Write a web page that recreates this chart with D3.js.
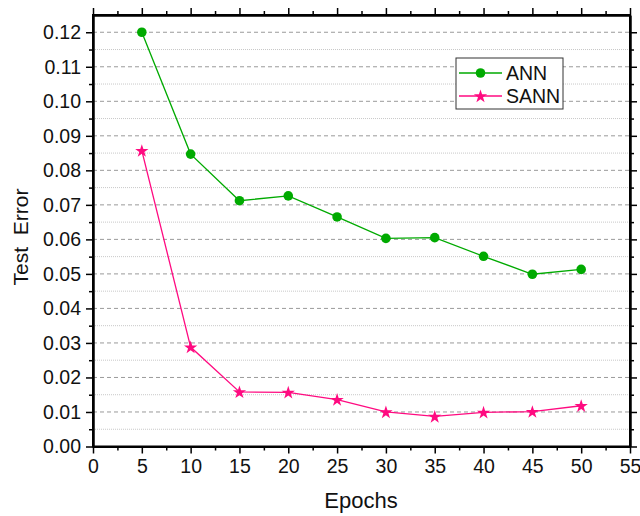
<!DOCTYPE html>
<html>
<head>
<meta charset="utf-8">
<script src="https://cdn.jsdelivr.net/npm/d3@7"></script>
<style>
  body { margin: 0; background: #fff; }
  svg text { font-family: "Liberation Sans", Arial, sans-serif; }
</style>
</head>
<body>
<svg id="chart" width="640" height="516"></svg>
<script>
// data
var epochs = [5, 10, 15, 20, 25, 30, 35, 40, 45, 50];
var annError = [0.1200, 0.0847, 0.0712, 0.0726, 0.0665, 0.0603, 0.0605, 0.0551, 0.0499, 0.0513];
var sannError = [0.0857, 0.0288, 0.0158, 0.0157, 0.0136, 0.0100, 0.0087, 0.0099, 0.0101, 0.0118];
var xTicks = [0, 5, 10, 15, 20, 25, 30, 35, 40, 45, 50, 55];
var yTicks = [0, 0.01, 0.02, 0.03, 0.04, 0.05, 0.06, 0.07, 0.08, 0.09, 0.10, 0.11, 0.12];
var seriesNames = ['ANN', 'SANN'];

var svg = d3.select('#chart'),
    margin = {left: 93, top: 15, right: 10, bottom: 70},
    width = 630 - margin.left,
    height = 446.5 - margin.top,
    green = '#00aa00',
    pink = '#ff0a80',
    font = '"Liberation Sans", Arial, sans-serif';

var g = svg.append('g')
  .attr('transform', `translate(${margin.left},${margin.top})`);

var x = d3.scaleLinear().domain([0, 55]).range([0, width]),
    y = d3.scaleLinear().domain([0, 0.125]).range([height, 0]);

// minor grid (dotted) and major grid (dashed)
var minorY = d3.range(0.005, 0.125, 0.01);
g.append('g').selectAll('line').data(minorY).enter().append('line')
  .attr('x1', 0).attr('x2', width)
  .attr('y1', d => y(d)).attr('y2', d => y(d))
  .attr('stroke', '#c8c8c8').attr('stroke-width', 1)
  .attr('stroke-dasharray', '1,1');
g.append('g').selectAll('line').data(yTicks.slice(1)).enter().append('line')
  .attr('x1', 0).attr('x2', width)
  .attr('y1', d => y(d)).attr('y2', d => y(d))
  .attr('stroke', '#9a9a9a').attr('stroke-width', 1)
  .attr('stroke-dasharray', '4,3');

// axes: major + minor ticks, outward on all four sides
function styleAxis(sel) {
  sel.attr('font-family', font);
  sel.selectAll('path').attr('stroke', '#000').attr('stroke-width', 2);
  sel.selectAll('line').attr('stroke', '#000').attr('stroke-width', 1.5);
  sel.selectAll('text').attr('font-size', '19.5px').attr('fill', '#111');
}
var xMinor = d3.range(2.5, 55, 5),
    yMinor = d3.range(0.005, 0.125, 0.01);

var xBottom = g.append('g').attr('transform', `translate(0,${height})`)
  .call(d3.axisBottom(x).tickValues(xTicks).tickSize(7).tickSizeOuter(0).tickPadding(6));
g.append('g').attr('transform', `translate(0,${height})`)
  .call(d3.axisBottom(x).tickValues(xMinor).tickSize(4).tickSizeOuter(0).tickFormat(''))
  .call(styleAxis);
xBottom.call(styleAxis);

var yLeft = g.append('g')
  .call(d3.axisLeft(y).tickValues(yTicks).tickSize(7).tickSizeOuter(0).tickPadding(5)
    .tickFormat(d3.format('.2f')));
g.append('g')
  .call(d3.axisLeft(y).tickValues(yMinor).tickSize(4).tickSizeOuter(0).tickFormat(''))
  .call(styleAxis);
yLeft.call(styleAxis);

g.append('g')
  .call(d3.axisTop(x).tickValues(xTicks).tickSize(7).tickSizeOuter(0).tickFormat(''))
  .call(styleAxis);
g.append('g')
  .call(d3.axisTop(x).tickValues(xMinor).tickSize(4).tickSizeOuter(0).tickFormat(''))
  .call(styleAxis);
g.append('g').attr('transform', `translate(${width},0)`)
  .call(d3.axisRight(y).tickValues(yTicks).tickSize(7).tickSizeOuter(0).tickFormat(''))
  .call(styleAxis);
g.append('g').attr('transform', `translate(${width},0)`)
  .call(d3.axisRight(y).tickValues(yMinor).tickSize(4).tickSizeOuter(0).tickFormat(''))
  .call(styleAxis);

// frame
g.append('rect')
  .attr('x', 0).attr('y', 0).attr('width', width).attr('height', height)
  .attr('fill', 'none').attr('stroke', '#000').attr('stroke-width', 2);

// series
var line = d3.line().x(d => x(d[0])).y(d => y(d[1]));
var annPts = epochs.map((e, i) => [e, annError[i]]),
    sannPts = epochs.map((e, i) => [e, sannError[i]]);

g.append('path').datum(annPts).attr('d', line)
  .attr('fill', 'none').attr('stroke', green).attr('stroke-width', 1.3);
g.append('path').datum(sannPts).attr('d', line)
  .attr('fill', 'none').attr('stroke', pink).attr('stroke-width', 1.3);

var star = d3.symbol().type(d3.symbolStar).size(55);
g.selectAll('circle.ann').data(annPts).enter().append('circle')
  .attr('cx', d => x(d[0])).attr('cy', d => y(d[1])).attr('r', 4.8)
  .attr('fill', green);
g.selectAll('path.sann').data(sannPts).enter().append('path')
  .attr('d', star)
  .attr('transform', d => `translate(${x(d[0])},${y(d[1]) + 0.5})`)
  .attr('fill', pink);

// legend
var legend = svg.append('g').attr('transform', 'translate(456,58)');
legend.append('rect')
  .attr('width', 107).attr('height', 51)
  .attr('fill', '#fff').attr('stroke', '#333').attr('stroke-width', 1);
[green, pink].forEach(function (color, i) {
  var ly = 15 + i * 23;
  legend.append('line')
    .attr('x1', 3).attr('x2', 46).attr('y1', ly).attr('y2', ly)
    .attr('stroke', color).attr('stroke-width', 1.3);
  if (i === 0) {
    legend.append('circle').attr('cx', 24.5).attr('cy', ly).attr('r', 4.8).attr('fill', color);
  } else {
    legend.append('path').attr('d', star)
      .attr('transform', `translate(24.5,${ly + 0.5})`).attr('fill', color);
  }
  legend.append('text')
    .attr('x', 50).attr('y', ly + 7)
    .attr('font-size', '19.5px').attr('fill', '#111')
    .text(seriesNames[i]);
});

// axis titles
svg.append('text')
  .attr('x', 361).attr('y', 508)
  .attr('text-anchor', 'middle').attr('font-size', '22px').attr('fill', '#111')
  .text('Epochs');
svg.append('text')
  .attr('transform', 'translate(28,237) rotate(-90)')
  .attr('text-anchor', 'middle').attr('font-size', '21px').attr('fill', '#111')
  .attr('xml:space', 'preserve')
  .text('Test  Error');
</script>
</body>
</html>
